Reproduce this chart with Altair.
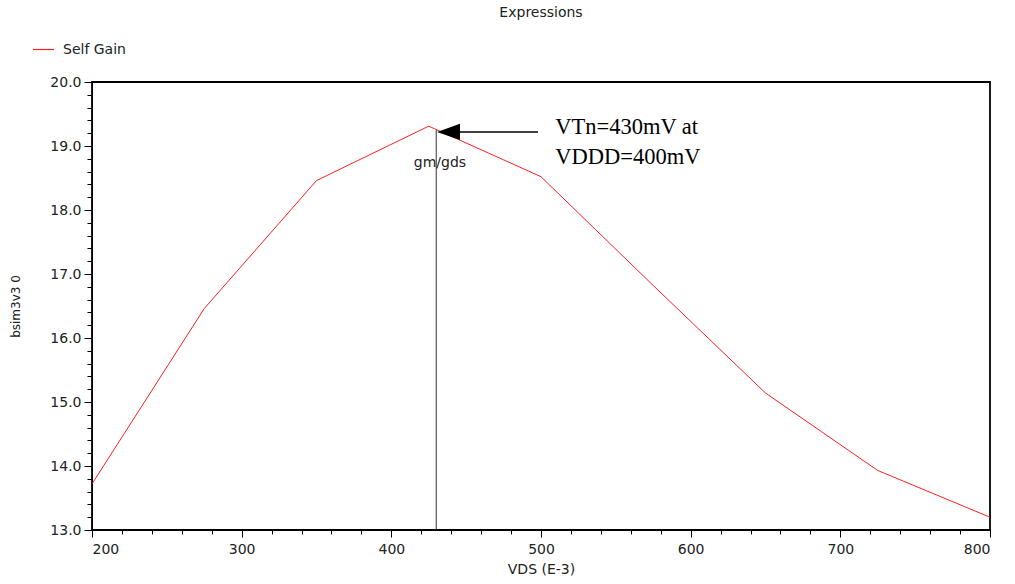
import altair as alt
import pandas as pd

# Data
vds = [200, 275, 350, 425, 500, 575, 650, 725, 800]
gain = [13.72, 16.46, 18.46, 19.31, 18.52, 16.82, 15.14, 13.93, 13.20]
series = ["Self Gain"] * len(vds)

x_major = [200, 300, 400, 500, 600, 700, 800]
x_minor = list(range(200, 801, 20))
y_major = [13, 14, 15, 16, 17, 18, 19, 20]
y_minor = [round(13 + 0.2 * i, 1) for i in range(36)]

marker_x = [430, 430]
marker_y = [13.0, 19.25]
arrow_x = [438, 498]
arrow_y = [19.22, 19.22]
head_x = [438.2]
head_y = [19.22]
note_x = [509.5, 509.5]
note_y = [19.30, 18.83]
note_text = ["VTn=430mV at", "VDDD=400mV"]
label_x = [432.5]
label_y = [18.73]
label_text = ["gm/gds"]

df = pd.DataFrame({"VDS": vds, "gain": gain, "series": series})
marker_df = pd.DataFrame({"x": marker_x, "y": marker_y})
arrow_df = pd.DataFrame({"x": arrow_x, "y": arrow_y})
head_df = pd.DataFrame({"x": head_x, "y": head_y})
note_df = pd.DataFrame({"x": note_x, "y": note_y, "t": note_text})
label_df = pd.DataFrame({"x": label_x, "y": label_y, "t": label_text})

FONT = "DejaVu Sans"
xscale = alt.Scale(domain=[200, 800], nice=False, zero=False)
yscale = alt.Scale(domain=[13, 20], nice=False, zero=False)

line = alt.Chart(df).mark_line(strokeWidth=1).encode(
    x=alt.X("VDS:Q", scale=xscale, title="VDS (E-3)",
            axis=alt.Axis(values=x_major, format="d", tickSize=7, labelPadding=5,
                          domainColor="black", tickColor="black", grid=False,
                          labelFont=FONT, labelFontSize=14, labelColor="#222",
                          titleFont=FONT, titleFontSize=14, titleFontWeight="normal",
                          titleColor="#222", titlePadding=6)),
    y=alt.Y("gain:Q", scale=yscale, title="bsim3v3 0",
            axis=alt.Axis(values=y_major, format=".1f", tickSize=8, labelPadding=3,
                          domainColor="black", tickColor="black", grid=False,
                          labelFont=FONT, labelFontSize=14, labelColor="#222",
                          titleFont=FONT, titleFontSize=12, titleFontWeight="normal",
                          titleColor="#222", titlePadding=27)),
    color=alt.Color("series:N", scale=alt.Scale(domain=["Self Gain"], range=["#ff2020"]),
                    legend=alt.Legend(title=None, orient="none", legendX=-60, legendY=-44,
                                      symbolType="stroke", symbolSize=441,
                                      symbolStrokeWidth=1.2,
                                      labelFont=FONT, labelFontSize=14,
                                      labelColor="#222", labelOffset=8)),
)

minor = alt.Chart(df).mark_line(opacity=0).encode(
    x=alt.X("VDS:Q", scale=xscale,
            axis=alt.Axis(values=x_minor, labels=False, tickSize=4, domain=False,
                          grid=False, title=None, orient="bottom", tickColor="black")),
    y=alt.Y("gain:Q", scale=yscale,
            axis=alt.Axis(values=y_minor, labels=False, tickSize=5, domain=False,
                          grid=False, title=None, orient="left", tickColor="black")),
)

ax = alt.X("x:Q", axis=None)
ay = alt.Y("y:Q", axis=None)

marker = alt.Chart(marker_df).mark_line(color="#333", strokeWidth=1).encode(x=ax, y=ay)

arrow = alt.Chart(arrow_df).mark_line(color="black", strokeWidth=1.5).encode(x=ax, y=ay)

head = alt.Chart(head_df).mark_point(
    shape="M -1 0 L 1 -0.7 L 1 0.7 Z", size=529, filled=True, color="black", opacity=1
).encode(x=ax, y=ay)

notes = alt.Chart(note_df).mark_text(
    align="left", baseline="middle", font="Liberation Serif", fontSize=22.5, color="black"
).encode(x=ax, y=ay, text="t:N")

label = alt.Chart(label_df).mark_text(
    align="center", baseline="middle", font=FONT, fontSize=14, color="#222"
).encode(x=ax, y=ay, text="t:N")

chart = alt.layer(line, minor, marker, arrow, head, notes, label).resolve_axis(
    x="independent", y="independent"
).properties(
    width=898,
    height=448,
    view=alt.ViewBackground(stroke="black", strokeWidth=1.8, strokeOpacity=1),
    title=alt.TitleParams("Expressions", anchor="middle", font=FONT, fontSize=14,
                          fontWeight="normal", color="#222", offset=18),
    autosize=alt.AutoSizeParams(type="none"),
    padding={"left": 92, "top": 82, "right": 25, "bottom": 54},
).configure_view(stroke="black", strokeWidth=1.8).configure(background="white")

chart.save("out.html", embed_options={"renderer": "svg", "actions": False})
